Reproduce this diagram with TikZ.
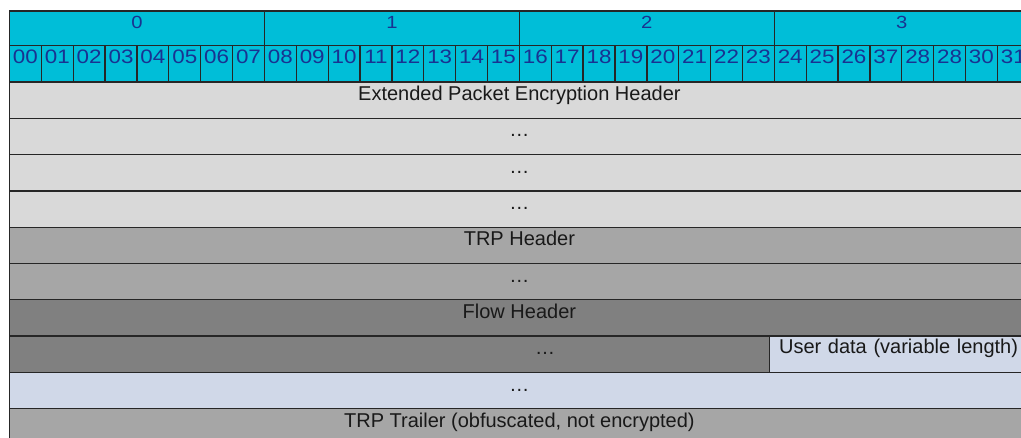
\documentclass[tikz,border=0pt]{standalone}
\usepackage{fontspec}
\setmainfont{Liberation Sans}
\newfontfamily\hdrfont[FakeStretch=1.15]{Liberation Sans}
\usepackage{tikz}
\usetikzlibrary{positioning}

\definecolor{hdrcyan}{RGB}{0,190,216}
\definecolor{hdrblue}{RGB}{25,50,145}
\definecolor{encgray}{RGB}{217,217,217}
\definecolor{trpgray}{RGB}{166,166,166}
\definecolor{flowgray}{RGB}{128,128,128}
\definecolor{userblue}{RGB}{208,216,232}

\begin{document}
\begin{tikzpicture}[x=0.75pt,y=-0.75pt,node distance=27.225pt and 23.9pt,on grid,
  every node/.style={draw=black!85,line width=1pt,inner sep=0pt},
  bytecell/.style={fill=hdrcyan,text=hdrblue,minimum width=191.2pt,
    text height=12.975pt,text depth=13.05pt,font=\hdrfont\fontsize{13.2}{15}\selectfont},
  bitcell/.style={fill=hdrcyan,text=hdrblue,minimum width=23.9pt,
    text height=13.2pt,text depth=14.025pt,font=\hdrfont\fontsize{14.6}{17}\selectfont},
  rowcell/.style={minimum width=764.8pt,text=black!90,
    text height=14.025pt,text depth=13.2pt,font=\fontsize{15}{18}\selectfont},
  dotstext/.style={draw=none,text=black!90,
    text height=14.025pt,text depth=13.2pt,font=\fontsize{15}{18}\selectfont}] 
\useasboundingbox (0,0) rectangle (1021,438);

\node[bytecell] (byte_0) at (137,28.35) {0};
\node[bytecell] (byte_1) [right=191.2pt of byte_0] {1};
\node[bytecell] (byte_2) [right=191.2pt of byte_1] {2};
\node[bytecell] (byte_3) [right=191.2pt of byte_2] {3};

\node[bitcell] (bit_00) at (25.43,63.85) {00};
\node[bitcell] (bit_01) [right=of bit_00] {01};
\node[bitcell] (bit_02) [right=of bit_01] {02};
\node[bitcell] (bit_03) [right=of bit_02] {03};
\node[bitcell] (bit_04) [right=of bit_03] {04};
\node[bitcell] (bit_05) [right=of bit_04] {05};
\node[bitcell] (bit_06) [right=of bit_05] {06};
\node[bitcell] (bit_07) [right=of bit_06] {07};
\node[bitcell] (bit_08) [right=of bit_07] {08};
\node[bitcell] (bit_09) [right=of bit_08] {09};
\node[bitcell] (bit_10) [right=of bit_09] {10};
\node[bitcell] (bit_11) [right=of bit_10] {11};
\node[bitcell] (bit_12) [right=of bit_11] {12};
\node[bitcell] (bit_13) [right=of bit_12] {13};
\node[bitcell] (bit_14) [right=of bit_13] {14};
\node[bitcell] (bit_15) [right=of bit_14] {15};
\node[bitcell] (bit_16) [right=of bit_15] {16};
\node[bitcell] (bit_17) [right=of bit_16] {17};
\node[bitcell] (bit_18) [right=of bit_17] {18};
\node[bitcell] (bit_19) [right=of bit_18] {19};
\node[bitcell] (bit_20) [right=of bit_19] {20};
\node[bitcell] (bit_21) [right=of bit_20] {21};
\node[bitcell] (bit_22) [right=of bit_21] {22};
\node[bitcell] (bit_23) [right=of bit_22] {23};
\node[bitcell] (bit_24) [right=of bit_23] {24};
\node[bitcell] (bit_25) [right=of bit_24] {25};
\node[bitcell] (bit_26) [right=of bit_25] {26};
\node[bitcell] (bit_27) [right=of bit_26] {37};
\node[bitcell] (bit_28) [right=of bit_27] {28};
\node[bitcell] (bit_29) [right=of bit_28] {28};
\node[bitcell] (bit_30) [right=of bit_29] {30};
\node[bitcell] (bit_31) [right=of bit_30] {31};

\node[rowcell, fill=encgray] (enc_1) at (519.4,100.15) {Extended Packet Encryption Header};
\node[rowcell, fill=encgray] (enc_2) [below=of enc_1] {…};
\node[rowcell, fill=encgray] (enc_3) [below=of enc_2] {…};
\node[rowcell, fill=encgray] (enc_4) [below=of enc_3] {…};
\node[rowcell, fill=trpgray] (trp_1) [below=of enc_4] {TRP Header};
\node[rowcell, fill=trpgray] (trp_2) [below=of trp_1] {…};
\node[rowcell, fill=flowgray] (flow_1) [below=of trp_2] {Flow Header};
\node[rowcell, fill=flowgray, minimum width=569.85pt] (flow_2) [below=of flow_1, xshift=-97.48pt] {};
\node[dotstext] (flow_dots) at (545,354.25) {…};
\node[rowcell, fill=userblue, minimum width=195.05pt, text width=180.45pt, inner xsep=7.3pt,
  align=left, text height=12.9pt, text depth=14.325pt] (user_1) [below=of flow_1, xshift=284.97pt] {User data (variable length)};
\node[rowcell, fill=userblue] (user_2) [below=54.45pt of flow_1] {…};
\node[rowcell, fill=trpgray] (trailer) [below=of user_2] {TRP Trailer (obfuscated, not encrypted)};
\end{tikzpicture}
\end{document}
